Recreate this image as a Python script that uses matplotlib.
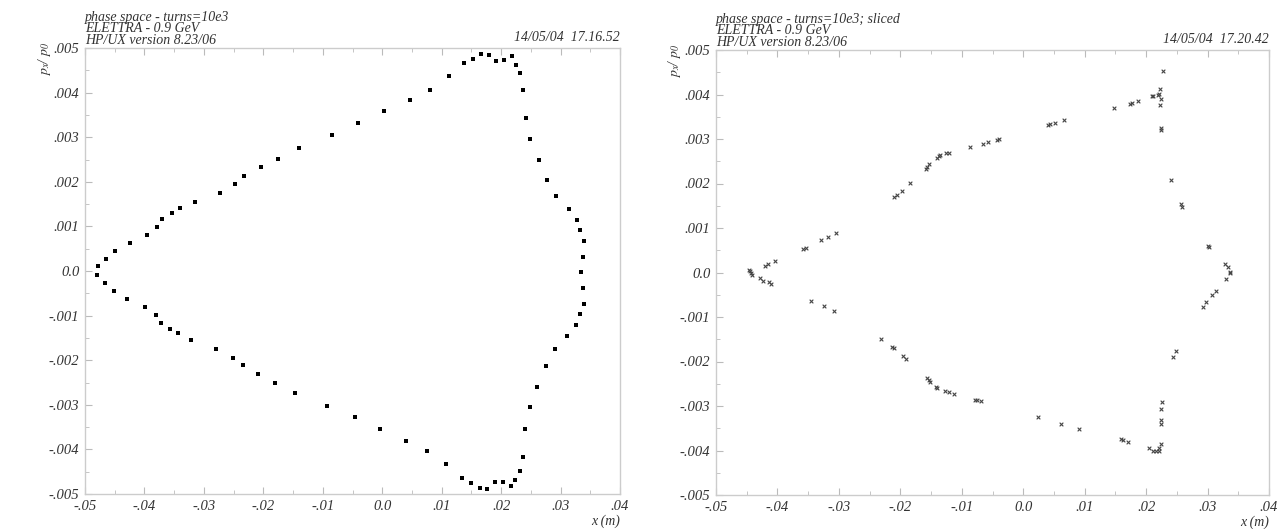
import matplotlib
matplotlib.use("Agg")
import matplotlib.pyplot as plt
import numpy as np

# Data: phase space, left = full tracking, right = sliced
full_x = [-0.0478, -0.0464, -0.0450, -0.0424, -0.0395, -0.0379, -0.0371, -0.0354, -0.0341, -0.0315,
          -0.0273, -0.0248, -0.0232, -0.0204, -0.0176, -0.0140, -0.0084, -0.0040, 0.0003, 0.0046,
          0.0080, 0.0112, 0.0137, 0.0152, 0.0166, 0.0179, 0.0192, 0.0205, 0.0218, 0.0225,
          0.0231, 0.0237, 0.0242, 0.0249, 0.0263, 0.0277, 0.0293, 0.0314, 0.0327, 0.0333,
          0.0339, 0.0337, 0.0335,
          0.0338, 0.0339, 0.0333, 0.0326, 0.0310, 0.0290, 0.0275, 0.0261, 0.0248, 0.0241,
          0.0236, 0.0231, 0.0224, 0.0216, 0.0203, 0.0190, 0.0177, 0.0164, 0.0150, 0.0134,
          0.0107, 0.0075, 0.0040, -0.0004, -0.0046, -0.0093, -0.0147, -0.0180, -0.0209, -0.0235,
          -0.0251, -0.0279, -0.0322, -0.0343, -0.0357, -0.0372, -0.0381, -0.0399, -0.0429, -0.0452,
          -0.0466, -0.0480]
full_p = [0.00011, 0.00028, 0.00045, 0.00063, 0.00081, 0.00099, 0.00117, 0.00130, 0.00141, 0.00155,
          0.00176, 0.00194, 0.00212, 0.00233, 0.00252, 0.00275, 0.00306, 0.00331, 0.00359, 0.00384,
          0.00406, 0.00437, 0.00466, 0.00475, 0.00487, 0.00484, 0.00471, 0.00474, 0.00481, 0.00463,
          0.00445, 0.00405, 0.00343, 0.00297, 0.00250, 0.00204, 0.00169, 0.00140, 0.00114, 0.00092,
          0.00067, 0.00031, -0.00003,
          -0.00038, -0.00073, -0.00096, -0.00120, -0.00146, -0.00176, -0.00213, -0.00260, -0.00305, -0.00354,
          -0.00416, -0.00449, -0.00469, -0.00483, -0.00473, -0.00473, -0.00488, -0.00486, -0.00475, -0.00464,
          -0.00433, -0.00404, -0.00382, -0.00355, -0.00328, -0.00303, -0.00273, -0.00251, -0.00232, -0.00211,
          -0.00194, -0.00175, -0.00154, -0.00140, -0.00130, -0.00117, -0.00098, -0.00080, -0.00063, -0.00044,
          -0.00028, -0.00010]

sliced_x = [-0.0445, -0.0443, -0.0441, -0.0446, -0.0421, -0.0416, -0.0404, -0.0358, -0.0354, -0.0329,
            -0.0317, -0.0305, -0.0211, -0.0206, -0.0197, -0.0184, -0.0159, -0.0156, -0.0153, -0.0141,
            -0.0137, -0.0135, -0.0125, -0.0120, -0.0087, -0.0065, -0.0058, -0.0043, -0.0039, 0.0041,
            0.0044, 0.0051, 0.0066, 0.0148, 0.0173, 0.0177, 0.0187, 0.0209, 0.0212, 0.0220,
            0.0221, 0.0223, 0.0228, 0.0224, 0.0223, 0.0224, 0.0224, 0.0240, 0.0256, 0.0258,
            0.0301, 0.0303, 0.0328, 0.0333, 0.0337,
            -0.0428, -0.0423, -0.0414, -0.0411, -0.0345, -0.0325, -0.0308, -0.0231, -0.0214, -0.0211,
            -0.0195, -0.0190, -0.0156, -0.0154, -0.0151, -0.0142, -0.0140, -0.0127, -0.0121, -0.0113,
            -0.0079, -0.0076, -0.0068, 0.0024, 0.0062, 0.0091, 0.0159, 0.0162, 0.0171, 0.0205,
            0.0211, 0.0216, 0.0221, 0.0221, 0.0224, 0.0224, 0.0224, 0.0225, 0.0226, 0.0244,
            0.0248, 0.0292, 0.0297, 0.0308, 0.0313, 0.0330, 0.0337]
sliced_p = [0.00003, -0.00002, -0.00006, 0.00006, 0.00015, 0.00018, 0.00026, 0.00053, 0.00056, 0.00073,
            0.00080, 0.00089, 0.00170, 0.00175, 0.00184, 0.00201, 0.00233, 0.00238, 0.00244, 0.00258,
            0.00261, 0.00263, 0.00268, 0.00269, 0.00282, 0.00289, 0.00293, 0.00298, 0.00299, 0.00331,
            0.00333, 0.00335, 0.00342, 0.00370, 0.00379, 0.00380, 0.00385, 0.00396, 0.00397, 0.00400,
            0.00402, 0.00412, 0.00453, 0.00389, 0.00376, 0.00325, 0.00320, 0.00207, 0.00154, 0.00148,
            0.00060, 0.00057, 0.00018, 0.00012, 0.00002,
            -0.00013, -0.00018, -0.00022, -0.00025, -0.00063, -0.00076, -0.00087, -0.00149, -0.00167, -0.00170,
            -0.00188, -0.00194, -0.00238, -0.00242, -0.00246, -0.00257, -0.00260, -0.00267, -0.00269, -0.00272,
            -0.00287, -0.00287, -0.00289, -0.00325, -0.00340, -0.00352, -0.00375, -0.00376, -0.00380, -0.00395,
            -0.00400, -0.00401, -0.00401, -0.00395, -0.00385, -0.00340, -0.00331, -0.00307, -0.00291, -0.00189,
            -0.00176, -0.00077, -0.00067, -0.00051, -0.00042, -0.00015, 0.00000]

x_ticks = [-0.05, -0.04, -0.03, -0.02, -0.01, 0.0, 0.01, 0.02, 0.03, 0.04]
x_ticklabels = ["-.05", "-.04", "-.03", "-.02", "-.01", "0.0", ".01", ".02", ".03", ".04"]
y_ticks = [-0.005, -0.004, -0.003, -0.002, -0.001, 0.0, 0.001, 0.002, 0.003, 0.004, 0.005]
y_ticklabels = ["-.005", "-.004", "-.003", "-.002", "-.001", "0.0", ".001", ".002", ".003", ".004", ".005"]

headers = ["phase space - turns=10e3\nELETTRA - 0.9 GeV\nHP/UX version 8.23/06",
           "phase space - turns=10e3; sliced\nELETTRA - 0.9 GeV\nHP/UX version 8.23/06"]
stamps = ["14/05/04  17.16.52", "14/05/04  17.20.42"]

plt.rcParams['font.family'] = ['Liberation Serif', 'DejaVu Serif']
plt.rcParams['font.style'] = 'italic'
plt.rcParams['mathtext.fontset'] = 'stix'

text_col = '#333333'
spine_col = '#cccccc'

fig = plt.figure(figsize=(12.86, 5.29), dpi=100)
ax1 = fig.add_axes([85 / 1286, 35 / 529, 535 / 1286, 446 / 529])
ax2 = fig.add_axes([716 / 1286, 34 / 529, 553 / 1286, 445 / 529])

ax1.scatter(full_x, full_p, marker='s', s=11, color='black', linewidths=0)
ax2.scatter(sliced_x, sliced_p, marker='x', s=7, color='#444444', linewidths=0.8)

for ax, head, stamp in zip([ax1, ax2], headers, stamps):
    ax.set_xlim(-0.05, 0.04)
    ax.set_ylim(-0.005, 0.005)
    ax.set_xticks(x_ticks)
    ax.set_xticklabels(x_ticklabels)
    ax.set_yticks(y_ticks)
    ax.set_yticklabels(y_ticklabels)
    ax.set_xticks(np.arange(-0.045, 0.04, 0.01), minor=True)
    ax.set_yticks(np.arange(-0.0045, 0.005, 0.001), minor=True)
    ax.tick_params(which='both', direction='in', top=True, right=False, color='#bbbbbb',
                   labelsize=10.5, labelcolor=text_col, pad=4)
    ax.tick_params(which='major', length=5, width=0.8)
    ax.tick_params(which='minor', length=3, width=0.6)
    for sp in ax.spines.values():
        sp.set_color(spine_col)
        sp.set_linewidth(1.0)
    ax.text(0.0, 1.003, head, transform=ax.transAxes, ha='left', va='bottom',
            fontsize=10, color=text_col, linespacing=0.82)
    ax.text(1.0, 1.008, stamp, transform=ax.transAxes, ha='right', va='bottom',
            fontsize=10, color=text_col)
    ax.text(1.0, -0.062, "x (m)", transform=ax.transAxes, ha='right', va='center',
            fontsize=10, color=text_col)
    ax.text(-0.075, 0.975, r"$p_x$/ $p_0$", transform=ax.transAxes, ha='center', va='center',
            rotation=90, fontsize=10, color=text_col)

fig.savefig("out.png", dpi=100, facecolor='white')
